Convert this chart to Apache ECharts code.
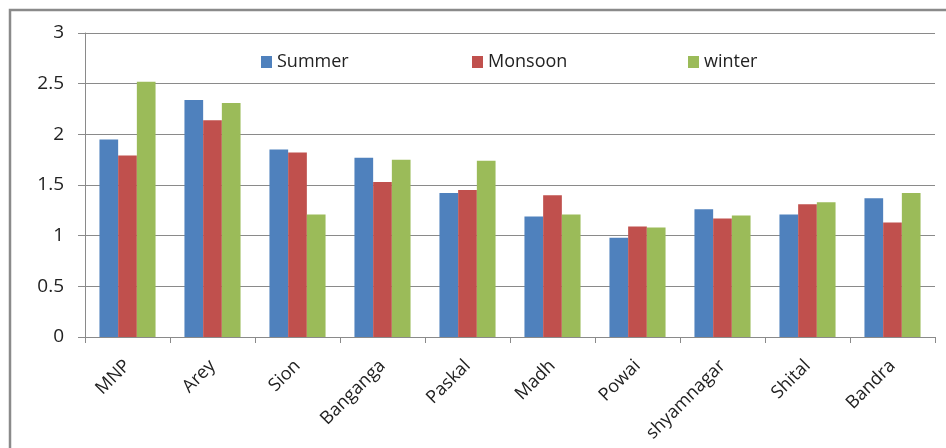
<!DOCTYPE html>
<html>
<head>
<meta charset="utf-8">
<script src="https://cdn.jsdelivr.net/npm/echarts@6/dist/echarts.min.js"></script>
<style>
  html, body { margin: 0; padding: 0; background: #fff; }
  #chart { width: 946px; height: 448px; }
</style>
</head>
<body>
<div id="chart"></div>
<script>
// 站点与季节数据
var sites = ['MNP', 'Arey', 'Sion', 'Banganga', 'Paskal', 'Madh', 'Powai', 'shyamnagar', 'Shital', 'Bandra'];
var summer = [1.95, 2.34, 1.85, 1.77, 1.42, 1.19, 0.98, 1.26, 1.21, 1.37];
var monsoon = [1.79, 2.14, 1.82, 1.53, 1.45, 1.40, 1.09, 1.17, 1.31, 1.13];
var winter = [2.52, 2.31, 1.21, 1.75, 1.74, 1.21, 1.08, 1.20, 1.33, 1.42];
var yTicks = [0, 0.5, 1, 1.5, 2, 2.5, 3];

var font = 'Open Sans';
var myChart = echarts.init(document.getElementById('chart'));

function legendAt(name, left) {
    return {
        data: [name],
        left: left,
        top: 48,
        itemWidth: 11,
        itemHeight: 12,
        itemGap: 0,
        icon: 'rect',
        textStyle: { fontFamily: font, fontSize: 18, color: '#222', padding: [0, 0, 0, 0] }
    };
}

var option = {
    animation: false,
    color: ['#4F81BD', '#C0504D', '#9BBB59'],
    graphic: [{
        type: 'rect',
        shape: { x: 10, y: 10, width: 960, height: 460 },
        style: { fill: 'none', stroke: '#8a8a8a', lineWidth: 2.5 },
        silent: true
    }],
    legend: [
        legendAt('Summer', 256),
        legendAt('Monsoon', 467),
        legendAt('winter', 683)
    ],
    grid: { left: 85, right: 11, top: 33, bottom: 111 },
    xAxis: {
        type: 'category',
        data: sites,
        axisLine: { lineStyle: { color: '#8a8a8a', width: 1 } },
        axisTick: { show: true, length: 6, lineStyle: { color: '#8a8a8a' } },
        axisLabel: {
            interval: 0,
            rotate: 45,
            margin: 26,
            fontFamily: font,
            fontSize: 18,
            color: '#222'
        }
    },
    yAxis: {
        type: 'value',
        min: 0,
        max: 3,
        interval: 0.5,
        axisLine: { show: true, lineStyle: { color: '#8a8a8a' } },
        axisTick: { show: true, length: 7, lineStyle: { color: '#8a8a8a' } },
        splitLine: { lineStyle: { color: '#8a8a8a', width: 1 } },
        axisLabel: {
            margin: 21,
            fontFamily: font,
            fontSize: 19,
            color: '#222',
            formatter: function (v) { return yTicks.indexOf(v) >= 0 ? String(v) : ''; }
        }
    },
    series: [
        { name: 'Summer', type: 'bar', data: summer, barGap: '0%', barCategoryGap: '34%' },
        { name: 'Monsoon', type: 'bar', data: monsoon, barGap: '0%', barCategoryGap: '34%' },
        { name: 'winter', type: 'bar', data: winter, barGap: '0%', barCategoryGap: '34%' }
    ]
};

myChart.setOption(option);
</script>
</body>
</html>
